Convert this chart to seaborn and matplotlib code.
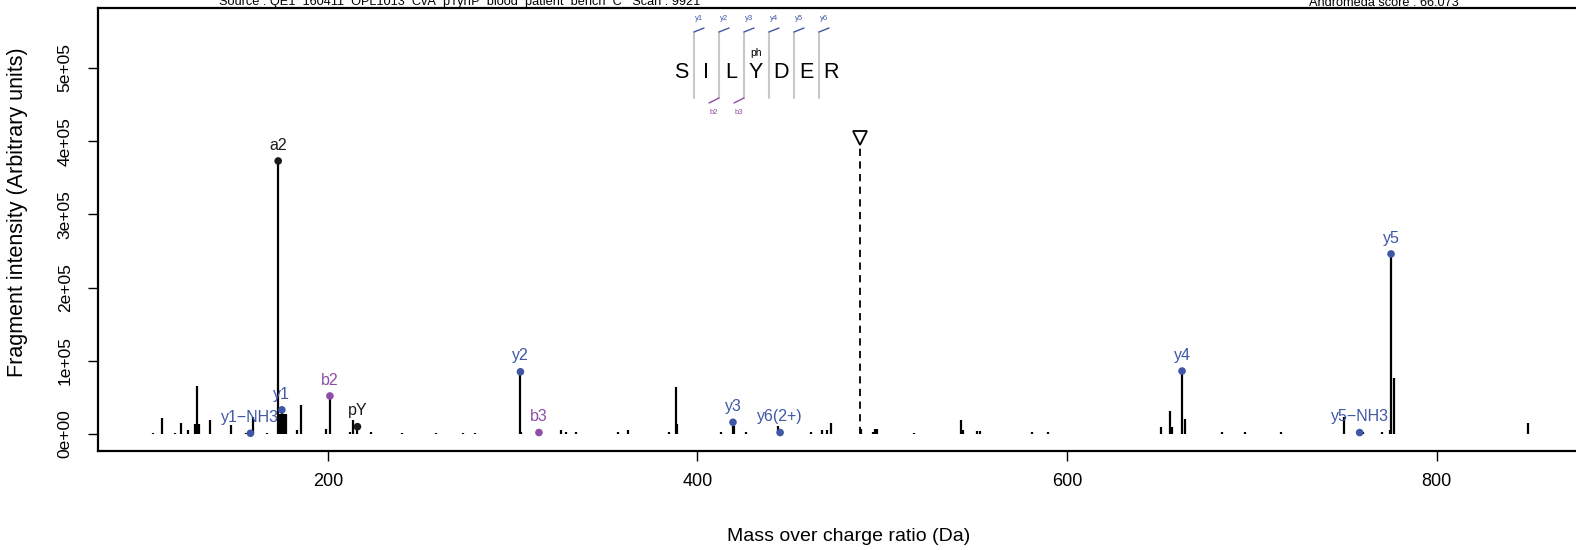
import numpy as np
import pandas as pd
import matplotlib
matplotlib.use("Agg")
import matplotlib.pyplot as plt
import seaborn as sns

# unannotated fragment peaks (m/z, intensity)
peak_mz = [105.2, 110.4, 117.1, 120.5, 124.1, 128.2, 129.2, 130.1, 136.2, 147.4,
           155.7, 159.5, 166.9, 174.2, 176.1, 177.1, 183.4, 185.3, 199.1, 212.0,
           213.6, 223.3, 240.3, 258.3, 272.9, 279.6, 304.6, 326.3, 328.8, 334.1,
           357.1, 362.4, 384.4, 388.2, 388.7, 412.5, 419.9, 426.2, 443.4, 461.4,
           467.2, 469.9, 472.2, 488.3, 494.8, 496.2, 497.3, 517.2, 542.5, 543.5,
           551.2, 552.9, 581.2, 589.7, 650.8, 655.8, 656.8, 663.7, 683.9, 696.0,
           715.9, 750.1, 760.0, 770.5, 774.8, 777.0, 849.2]
peak_int = [2000, 22000, 2000, 15000, 5000, 14000, 65000, 14000, 19000, 12000,
            2000, 23000, 2000, 28000, 28000, 28000, 5000, 40000, 7000, 3000,
            19000, 3000, 2000, 2000, 2000, 2000, 3000, 6000, 3000, 3000,
            3000, 6000, 3000, 64000, 14000, 3000, 11000, 3000, 11000, 3000,
            5000, 6000, 15000, 7000, 3000, 7000, 7000, 2000, 19000, 5000,
            4000, 4000, 3000, 3000, 10000, 32000, 10000, 21000, 3000, 3000,
            3000, 23000, 3000, 3000, 5000, 77000, 15000]

# annotated fragment ions
ion_label = ["a2", "y1\u2212NH3", "y1", "b2", "pY", "y2", "b3", "y3", "y6(2+)", "y4", "y5\u2212NH3", "y5"]
ion_mz = [173.1, 158.1, 175.1, 201.1, 216.0, 304.2, 314.2, 419.2, 444.7, 662.2, 758.3, 775.3]
ion_int = [373000, 1000, 33000, 52000, 10000, 85000, 2000, 16000, 2000, 86000, 2000, 246000]
ion_type = ["other", "y", "y", "b", "other", "y", "b", "y", "y", "y", "y", "y"]

precursor_mz = 488.2
precursor_int = 405000

sequence = ["S", "I", "L", "Y", "D", "E", "R"]
y_ions = ["y1", "y2", "y3", "y4", "y5", "y6"]
b_ions = ["b2", "b3"]

colors = {"y": "#3F57A6", "b": "#8E4DA6", "other": "#1a1a1a"}

sns.set_style("white")
plt.rcParams["font.family"] = ["Liberation Sans", "DejaVu Sans"]
for k in ["text.color", "axes.labelcolor", "xtick.color", "ytick.color"]:
    plt.rcParams[k] = "black"

W, H = 1576, 550
fig = plt.figure(figsize=(W / 100, H / 100), dpi=100)
ax = fig.add_axes([98 / W, 1 - 451 / H, (1600 - 98) / W, (451 - 8) / H])


def fx(px):
    return px / W


def fy(py):
    return 1 - py / H


ax.vlines(peak_mz, 0, peak_int, color="black", lw=1.6)
ax.vlines(ion_mz, 0, ion_int, color="black", lw=1.6)

ions = pd.DataFrame({"mz": ion_mz, "intensity": ion_int, "type": ion_type, "label": ion_label})
sns.scatterplot(data=ions, x="mz", y="intensity", hue="type", palette=colors,
                s=30, edgecolor="none", legend=False, ax=ax, zorder=3)
for _, r in ions.iterrows():
    ax.annotate(r["label"], (r["mz"], r["intensity"]), xytext=(0, 6), textcoords="offset points",
                ha="center", va="bottom", fontsize=11.5, color=colors[r["type"]])

ax.vlines([precursor_mz], 0, precursor_int, color="black", lw=1.3, linestyles=(0, (4, 3)))
ax.plot([precursor_mz], [precursor_int], marker="v", ms=10, mfc="white", mec="black", mew=1.3)

ax.set_xlim(75.6, 200 + (1600 - 327.9) / 1.848)
ax.set_ylim(-23224, 581967)
ax.set_xticks([200, 400, 600, 800])
ax.set_yticks([0, 100000, 200000, 300000, 400000, 500000])
ax.set_yticklabels(["0e+00", "1e+05", "2e+05", "3e+05", "4e+05", "5e+05"], rotation=90, va="center")
ax.tick_params(axis="x", direction="out", length=7.2, width=1, labelsize=13, pad=9, bottom=True, color="black")
ax.tick_params(axis="y", direction="out", length=7.2, width=1, labelsize=12.5, pad=11, left=True, color="black")
ax.set_xlabel("Mass over charge ratio (Da)", fontsize=14, labelpad=27)
ax.set_ylabel("Fragment intensity (Arbitrary units)", fontsize=15.5, va="center")
ax.yaxis.set_label_coords(-0.0539, 0.54)
for s in ax.spines.values():
    s.set_color("black")
    s.set_linewidth(1.6)

# header texts (partly clipped at the top edge)
fig.text(fx(219), fy(5.5), "Source : QE1_160411_OPL1013_CvA_pTyrIP_blood_patient_bench_C   Scan : 9921",
         ha="left", va="baseline", fontsize=9.2)
fig.text(fx(1384), fy(5.5), "Andromeda score : 66.073", ha="center", va="baseline", fontsize=9.2)

# peptide sequence with fragment ladder
x0, step = 681, 25
for i, aa in enumerate(sequence):
    fig.text(fx(x0 + i * step), fy(72), aa, ha="center", va="center", fontsize=15.5)
fig.text(fx(x0 + 3 * step), fy(53), "ph", ha="center", va="center", fontsize=7.5)
for i in range(len(sequence) - 1):
    sx = x0 + i * step + 13
    fig.add_artist(plt.Line2D([fx(sx), fx(sx)], [fy(32), fy(98)], color="#c8c8c8", lw=1.5))
    fig.add_artist(plt.Line2D([fx(sx), fx(sx + 10)], [fy(32), fy(28)], color=colors["y"], lw=1))
    fig.text(fx(sx + 5), fy(19), y_ions[i], ha="center", va="center", fontsize=5.5, color=colors["y"])
for j, lab in enumerate(b_ions):
    sx = x0 + (j + 1) * step + 13
    fig.add_artist(plt.Line2D([fx(sx), fx(sx - 10)], [fy(98), fy(103)], color=colors["b"], lw=1))
    fig.text(fx(sx - 5), fy(112), lab, ha="center", va="center", fontsize=5.5, color=colors["b"])

fig.savefig("out.png", dpi=100)
